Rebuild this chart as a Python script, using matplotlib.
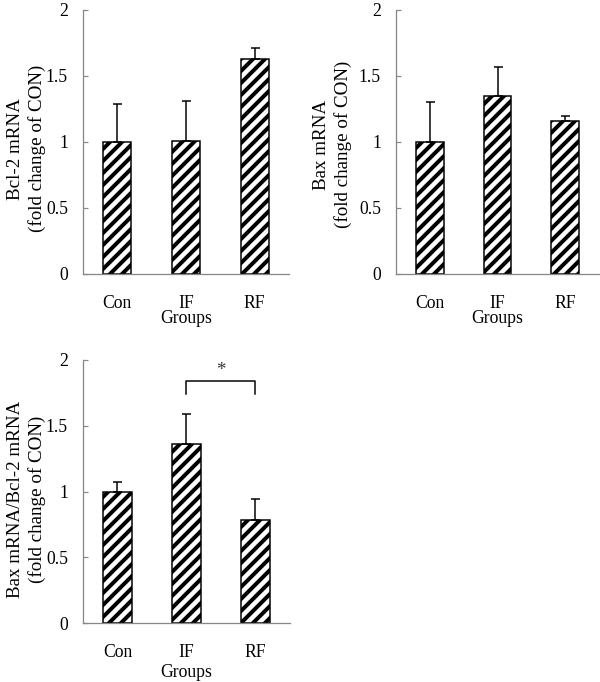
import matplotlib
matplotlib.use("Agg")
import matplotlib.pyplot as plt

plt.rcParams['font.family'] = ['Liberation Serif', 'DejaVu Serif']
plt.rcParams['hatch.linewidth'] = 4.0
plt.rcParams['hatch.color'] = 'black'

groups = ['Con', 'IF', 'RF']

bcl2 = [1.00, 1.01, 1.63]
bcl2_err = [0.29, 0.30, 0.08]

bax = [1.00, 1.35, 1.16]
bax_err = [0.30, 0.22, 0.04]

ratio = [1.00, 1.36, 0.78]
ratio_err = [0.07, 0.23, 0.16]

ylabels = ['Bcl-2 mRNA\n(fold change of CON)',
           'Bax mRNA\n(fold change of CON)',
           'Bax mRNA/Bcl-2 mRNA\n(fold change of CON)']

W, H = 600, 682
# dpi 72: one point = one pixel
fig = plt.figure(figsize=(W / 72, H / 72), dpi=72)
FS = 17.6


def panel(rect_px, vals, errs, ylabel, label_x, label_y, groups_y):
    l, t, r, b = rect_px
    ax = fig.add_axes([l / W, 1 - b / H, (r - l) / W, (b - t) / H])
    x = range(len(groups))
    ax.bar(x, vals, width=0.41, color='white', edgecolor='black',
           linewidth=1.5, hatch='//', zorder=2)
    ax.errorbar(x, vals, yerr=[[0] * len(errs), errs], fmt='none',
                ecolor='black', elinewidth=1.5, capsize=4.5, capthick=1.5,
                zorder=3)
    ax.set_xlim(-0.5, 2.5)
    ax.set_ylim(0, 2)
    ax.set_yticks([0, 0.5, 1, 1.5, 2])
    ax.set_yticklabels(['0', '0.5', '1', '1.5', '2'])
    ax.set_xticks(list(x))
    ax.set_xticklabels(groups)
    for s in ['top', 'right']:
        ax.spines[s].set_visible(False)
    for s in ['left', 'bottom']:
        ax.spines[s].set_color('#888888')
        ax.spines[s].set_linewidth(1.3)
    ax.tick_params(axis='y', direction='in', length=5, width=1.2,
                   color='#888888', labelsize=FS, pad=15)
    ax.tick_params(axis='x', length=0, labelsize=FS, pad=21)
    ax.set_ylabel(ylabel, fontsize=19, linespacing=1.32)
    ax.yaxis.set_label_coords(label_x, label_y)
    ax.text(1, groups_y, 'Groups', fontsize=FS, ha='center', va='center',
            transform=ax.get_xaxis_transform())
    return ax


panel((83, 10, 289, 274), bcl2, bcl2_err, ylabels[0], -0.178, 0.475, -0.168)
panel((396, 10, 599, 274), bax, bax_err, ylabels[1], -0.215, 0.49, -0.168)
ax3 = panel((83, 360, 290, 623), ratio, ratio_err, ylabels[2], -0.178, 0.47, -0.188)

# significance bracket between IF and RF
ax3.plot([1, 1, 2, 2], [1.74, 1.84, 1.84, 1.74], color='black', lw=1.5)
ax3.text(1.5, 1.92, '*', fontsize=19, ha='center', va='center', color='#333333')

fig.savefig('out.png', dpi=72)
